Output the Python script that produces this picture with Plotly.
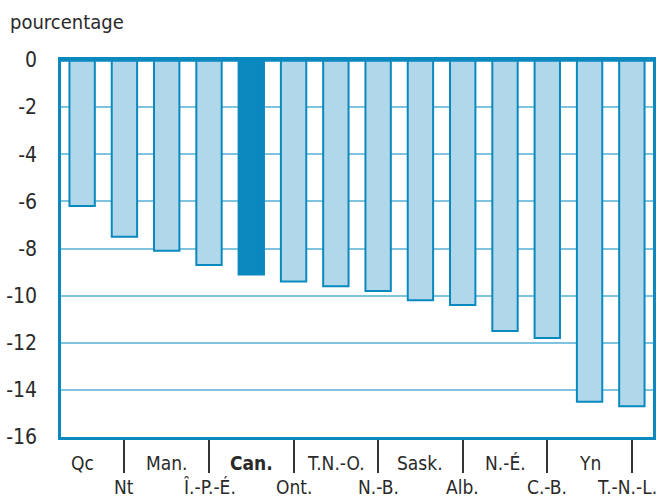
import plotly.graph_objects as go

categories = ["Qc", "Nt", "Man.", "Î.-P.-É.", "Can.", "Ont.", "T.N.-O.", "N.-B.",
              "Sask.", "Alb.", "N.-É.", "C.-B.", "Yn", "T.-N.-L."]
values = [-6.2, -7.5, -8.1, -8.7, -9.1, -9.4, -9.6, -9.8, -10.2, -10.4, -11.5, -11.8, -14.5, -14.7]
highlight = "Can."
y_ticks = [0, -2, -4, -6, -8, -10, -12, -14, -16]

DARK = "#0a89bf"
LIGHT = "#b0d8ea"
GRID = "#7ec4e1"
FONT = "DejaVu Sans Condensed, Liberation Sans Narrow, Arial Narrow, sans-serif"

idx = list(range(len(categories)))
fills = [DARK if c == highlight else LIGHT for c in categories]

fig = go.Figure()
fig.add_trace(go.Bar(
    x=idx, y=values, width=0.6,
    marker=dict(color=fills, line=dict(color=DARK, width=2)),
    hoverinfo="skip",
))

last = len(categories) - 1
for i, c in enumerate(categories):
    txt = f"<b>{c}</b>" if c == highlight else c
    fig.add_annotation(
        x=i, xref="x", y=0, yref="paper", text=txt, showarrow=False,
        yanchor="middle", yshift=-26 if i % 2 == 0 else -50,
        xshift=-5 if i == last else 0,
        font=dict(family=FONT, size=19, color="#2a2a2a"),
    )

fig.add_annotation(
    x=0, xref="paper", xanchor="left", xshift=-53, y=1, yref="paper", yshift=38,
    text="pourcentage", showarrow=False, yanchor="middle",
    font=dict(family=FONT, size=20, color="#2a2a2a"),
)

fig.update_layout(
    width=660, height=500,
    margin=dict(l=61, r=4, t=60, b=63),
    plot_bgcolor="white", paper_bgcolor="white",
    showlegend=False, bargap=0.4,
    font=dict(family=FONT, size=21, color="#2a2a2a"),
    xaxis=dict(
        range=[-0.5, len(categories) - 0.5],
        tickvals=[i for i in idx if i % 2 == 1],
        ticks="outside", ticklen=33, tickwidth=1.5, tickcolor="#333333",
        showticklabels=False, showgrid=False, zeroline=False,
        showline=True, linecolor=DARK, linewidth=2.5, mirror=True,
    ),
    yaxis=dict(
        range=[-16, 0], tickvals=y_ticks, ticktext=[str(v) for v in y_ticks],
        showgrid=True, gridcolor=GRID, gridwidth=1.5,
        zeroline=False, ticks="", ticklabelstandoff=17,
        showline=True, linecolor=DARK, linewidth=2.5, mirror=True,
        tickfont=dict(family=FONT, size=21, color="#2a2a2a"),
    ),
)
fig.add_hline(y=0, line=dict(color=DARK, width=3.5))

fig.write_html(
    "out.html",
    config={"displayModeBar": False},
    post_script="document.body.style.margin='0';document.body.style.padding='0';",
)
